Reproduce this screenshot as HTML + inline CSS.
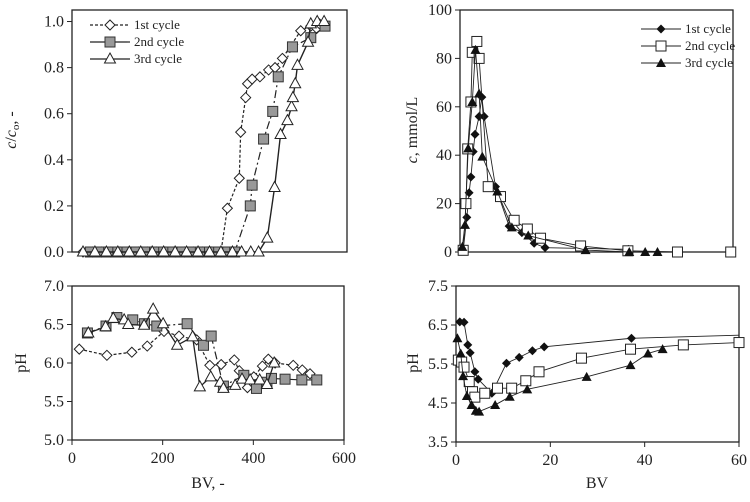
<!DOCTYPE html>
<html><head><meta charset="utf-8"><style>
body{margin:0;background:#fff;width:750px;height:497px;overflow:hidden}
svg text{font-family:"Liberation Serif",serif;fill:#222}
</style></head><body>
<svg id="s" width="750" height="497" xmlns="http://www.w3.org/2000/svg">
<g id="frames"></g>
<text x="16" y="130" font-size="16" transform="rotate(-90 16 130)" text-anchor="middle"><tspan font-style="italic">c</tspan>/<tspan font-style="italic">c</tspan><tspan font-size="11" dy="3">o</tspan><tspan dy="-3">, -</tspan></text>
<text x="417" y="130" font-size="16" transform="rotate(-90 417 130)" text-anchor="middle"><tspan font-style="italic">c</tspan>, mmol/L</text>
<text x="26" y="363" font-size="16" transform="rotate(-90 26 363)" text-anchor="middle">pH</text>
<text x="418" y="363" font-size="16" transform="rotate(-90 418 363)" text-anchor="middle">pH</text>
<text x="208" y="488" font-size="16" text-anchor="middle">BV, -</text>
<text x="597" y="488" font-size="16" text-anchor="middle">BV</text>
</svg>
<script>
// ---- data: top-left breakthrough (BV, c/c0)
const tl1x=[24,45,65,85,105,125,145,165,185,205,225,245,265,285,305,325,339,365,368,379,383,393,410,429,443,459,499,521,534,540];
const tl1y=[0,0,0,0,0,0,0,0,0,0,0,0,0,0,0,0,0.19,0.32,0.52,0.67,0.73,0.75,0.76,0.79,0.80,0.84,0.96,0.98,0.97,0.99];
const tl2x=[40,60,80,100,120,140,160,180,200,220,240,260,280,300,320,340,355,389,393,418,438,450,481,521,552];
const tl2y=[0,0,0,0,0,0,0,0,0,0,0,0,0,0,0,0,0,0.20,0.29,0.49,0.61,0.76,0.89,0.93,0.98];
const tl3x=[24,50,75,100,125,150,175,200,225,250,275,300,325,350,370,390,407,426,442,455,470,479,482,487,492,515,521,535,550];
const tl3y=[0,0,0,0,0,0,0,0,0,0,0,0,0,0,0,0,0,0.06,0.28,0.51,0.57,0.63,0.67,0.73,0.81,0.91,0.99,1.0,1.0];
// ---- bottom-left pH
const bl1x=[16,77,132,166,203,236,275,304,329,358,369,387,401,420,433,448,488,508,525];
const bl1y=[6.18,6.10,6.14,6.22,6.41,6.35,6.30,5.97,5.98,6.04,5.90,5.68,5.82,5.96,6.05,6.00,5.97,5.91,5.86];
const bl2x=[34,75,99,134,160,187,254,290,307,334,379,407,430,440,470,507,540];
const bl2y=[6.39,6.48,6.59,6.56,6.51,6.48,6.51,6.23,6.35,5.70,5.84,5.67,5.75,5.80,5.79,5.78,5.78];
const bl3x=[36,74,91,115,124,159,179,201,232,266,282,306,327,334,360,375,393,414,430,446];
const bl3y=[6.39,6.47,6.58,6.56,6.50,6.49,6.70,6.51,6.23,6.34,5.69,5.82,5.75,5.67,5.71,5.79,5.78,5.78,5.72,6.00];
// ---- top-right concentration
const tr1x=[0.7,1.5,2.0,2.4,2.9,3.3,4.2,4.8,5.3,7.8,10.8,11.4,13.6,16.3,18.7,37];
const tr1y=[0.7,14.3,24.5,31,41.5,48.6,56,64,56,27,10.7,13.2,8,3.6,1.8,1.1];
const tr2x=[0.7,1.3,1.7,2.4,2.7,3.7,4.2,6.2,8.9,11.9,14.8,17.7,26.5,36.9,47.8,59.5];
const tr2y=[0.7,20,42.6,62,82.5,87,80,27,22.9,13.1,9.5,5.7,2.5,0.5,0,0];
const tr3x=[0.5,1.1,1.8,2.7,3.4,4.2,4.9,8.2,11.4,15,27.6,37.2,40.7,43.4];
const tr3y=[2.1,11.2,42.8,62,83.5,65.5,39.4,25,10.2,6.8,0.8,0,0,0];
// ---- bottom-right pH
const br1x=[0.8,1.7,2.5,3.0,4.0,4.7,7.6,10.7,13.4,16.2,18.7,37.2];
const br1y=[6.58,6.57,5.99,5.79,5.30,5.11,4.75,5.52,5.67,5.84,5.94,6.16];
const br2x=[0.5,1.2,1.7,2.8,3.5,4.0,6.1,8.8,11.8,14.8,17.6,26.6,37.0,48.2,60];
const br2y=[5.60,5.55,5.42,5.05,4.79,4.65,4.75,4.88,4.88,5.07,5.30,5.65,5.88,5.99,6.05];
const br3x=[0.3,1.0,1.5,2.3,3.3,4.2,4.9,8.3,11.4,15.1,27.7,37.0,40.7,43.8];
const br3y=[6.16,5.77,5.19,4.68,4.45,4.30,4.28,4.45,4.66,4.85,5.17,5.47,5.77,5.88];
const yTicksTL=["0.0","0.2","0.4","0.6","0.8","1.0"];
const yTicksTR=["0","20","40","60","80","100"];
const yTicksBL=["5.0","5.5","6.0","6.5","7.0"];
const yTicksBR=["3.5","4.5","5.5","6.5","7.5"];
const xTicksL=["0","200","400","600"];
const xTicksR=["0","20","40","60"];

const S=document.getElementById('s');const NS='http://www.w3.org/2000/svg';
function el(t,a,p){const e=document.createElementNS(NS,t);for(const k in a)e.setAttribute(k,a[k]);(p||S).appendChild(e);return e;}
function lin(d0,d1,r0,r1){return v=>r0+(v-d0)*(r1-r0)/(d1-d0);}
function panel(name,x0,x1,y0,y1,xd,yd,yt,xt){
  const g=el('g',{});
  
  
  const r=el('rect',{x:x0,y:y0,width:x1-x0,height:y1-y0,fill:'none',stroke:'#222','stroke-width':1.3},g);
  
  
  const sx=lin(xd[0],xd[1],x0,x1),sy=lin(yd[0],yd[1],y1,y0);
  yt.forEach(t=>{const y=sy(parseFloat(t));
    el('line',{x1:x0-5,x2:x0,y1:y,y2:y,stroke:'#222'},g);
    const tx=el('text',{x:x0-8,y:y+5,'font-size':16,'text-anchor':'end'},g);tx.textContent=t;
    
    });
  if(xt)xt.forEach(t=>{const x=sx(parseFloat(t));
    el('line',{x1:x,x2:x,y1:y1,y2:y1+5,stroke:'#222'},g);
    const tx=el('text',{x:x,y:y1+23,'font-size':16,'text-anchor':'middle'},g);tx.textContent=t;
    
    });
  return {sx,sy,g};
}
function marker(g,type,x,y){
  let m;
  if(type==='diamond-open')m=el('polygon',{points:`${x},${y-5} ${x+5},${y} ${x},${y+5} ${x-5},${y}`,fill:'#fff',stroke:'#222','stroke-width':1},g);
  else if(type==='diamond')m=el('polygon',{points:`${x},${y-4.5} ${x+4.5},${y} ${x},${y+4.5} ${x-4.5},${y}`,fill:'#111'},g);
  else if(type==='sq-gray')m=el('rect',{x:x-5,y:y-5,width:10,height:10,fill:'#999',stroke:'#333'},g);
  else if(type==='sq-open')m=el('rect',{x:x-5,y:y-5,width:10,height:10,fill:'#fff',stroke:'#222'},g);
  else if(type==='tri-open')m=el('polygon',{points:`${x},${y-6} ${x+5.5},${y+4} ${x-5.5},${y+4}`,fill:'#fff',stroke:'#222'},g);
  else m=el('polygon',{points:`${x},${y-5} ${x+5},${y+4} ${x-5},${y+4}`,fill:'#111'},g);
  
  
}
function series(p,name,xs,ys,type,dash,w,extra){
  const g=el('g',{},p.g);
  
  
  let pts=xs.map((v,i)=>p.sx(v)+','+p.sy(ys[i]));
  if(extra)pts.push(p.sx(extra[0])+','+p.sy(extra[1]));
  const l=el('polyline',{points:pts.join(' '),fill:'none',stroke:'#222','stroke-width':w,'stroke-dasharray':dash},g);
  
  
  xs.forEach((v,i)=>marker(g,type,p.sx(v),p.sy(ys[i])));
}
function legend(x,y,items,w){
  const g=el('g',{});
  
  
  items.forEach((it,i)=>{const yy=y+i*17;
    const lg=el('g',{},g);
    
    
    el('line',{x1:x,x2:x+40,y1:yy,y2:yy,stroke:'#222','stroke-width':w||1.2,'stroke-dasharray':it[2]},lg);
    marker(lg,it[1],x+20,yy);
    const t=el('text',{x:x+44,y:yy+4,'font-size':13},lg);t.textContent=it[0];});
}
const TL=panel('breakthrough-chart',72,347,10,252,[0,600],[0,1.05],yTicksTL,null);
series(TL,'series-1st-cycle',tl1x,tl1y,'diamond-open','3,2',1.2);
series(TL,'series-2nd-cycle',tl2x,tl2y,'sq-gray','8,3,2,3',1.2);
series(TL,'series-3rd-cycle',tl3x,tl3y,'tri-open','',1.4);
legend(90,25,[['1st cycle','diamond-open','3,2'],['2nd cycle','sq-gray','14,0'],['3rd cycle','tri-open','']]);
const BL=panel('ph-loading-chart',72,344,286,440,[0,600],[5,7],yTicksBL,xTicksL);
series(BL,'series-1st-cycle-ph',bl1x,bl1y,'diamond-open','3,2',1.2);
series(BL,'series-2nd-cycle-ph',bl2x,bl2y,'sq-gray','8,3,2,3',1.2);
series(BL,'series-3rd-cycle-ph',bl3x,bl3y,'tri-open','',1.3);
const TR=panel('elution-chart',460,733,10,252,[0,60],[0,100],yTicksTR,null);
series(TR,'series-1st-elution',tr1x,tr1y,'diamond','',0.9);
series(TR,'series-2nd-elution',tr2x,tr2y,'sq-open','',0.9);
series(TR,'series-3rd-elution',tr3x,tr3y,'tri','',0.9);
legend(641,29,[['1st cycle','diamond',''],['2nd cycle','sq-open',''],['3rd cycle','tri','']],0.9);
const BR=panel('ph-elution-chart',456,739,286,442,[0,60],[3.5,7.5],yTicksBR,xTicksR);
series(BR,'series-1st-elution-ph',br1x,br1y,'diamond','',0.9,[60,6.24]);
series(BR,'series-2nd-elution-ph',br2x,br2y,'sq-open','',0.9);
series(BR,'series-3rd-elution-ph',br3x,br3y,'tri','',0.9);
</script>
</body></html>
